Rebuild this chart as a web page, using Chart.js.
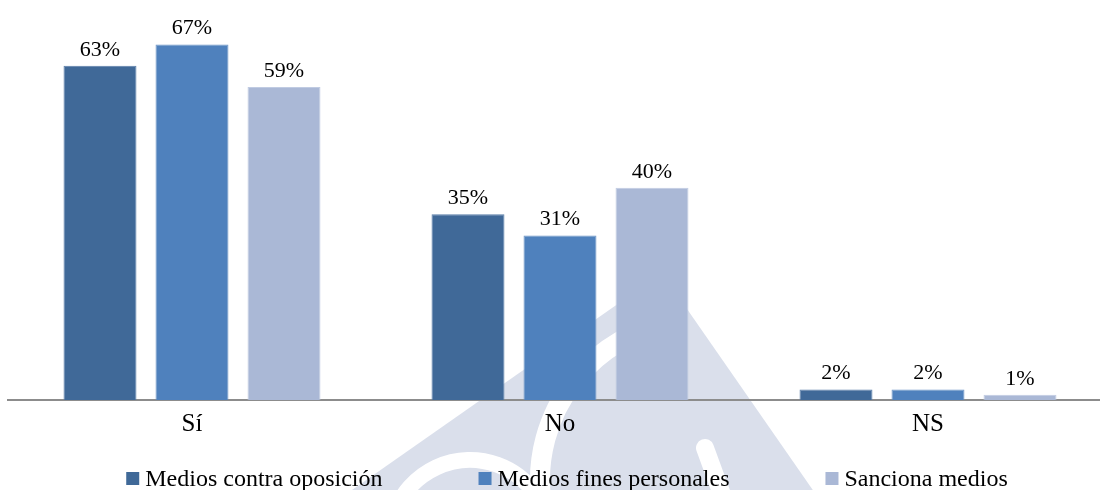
<!DOCTYPE html>
<html>
<head>
<meta charset="utf-8">
<title>Medios</title>
<script src="https://cdn.jsdelivr.net/npm/chart.js@4.4.0/dist/chart.umd.min.js"></script>
<style>
  html, body { margin: 0; padding: 0; background: #fff; }
  #wrap { width: 1100px; height: 490px; overflow: hidden; position: relative; }
  canvas { display: block; }
</style>
</head>
<body>
<div id="wrap"><canvas id="encuesta" width="1113" height="490"></canvas></div>
<script>
// Answers (in %) per option, one array per series.
var categories = ["Sí", "No", "NS"];
var seriesNames = ["Medios contra oposición", "Medios fines personales", "Sanciona medios"];
var contraOposicion = [63, 35, 2];
var finesPersonales = [67, 31, 2];
var sancionaMedios = [59, 40, 1];

var fills = ["#406998", "#4f81bd", "#aab8d6"];
var edges = ["#5a7ea9", "#6d95c6", "#c0cbe2"];

Chart.defaults.font.family = '"Liberation Serif", "Times New Roman", serif';
Chart.defaults.color = "#000";

// Pale emblem painted behind the bars.
var emblem = {
  id: "emblem",
  beforeDraw: function (chart) {
    var ctx = chart.ctx;
    ctx.save();
    ctx.beginPath();
    ctx.moveTo(662, 273);
    ctx.lineTo(662 - 1.4286 * 260, 273 + 260);
    ctx.lineTo(662 + 0.695 * 260, 273 + 260);
    ctx.closePath();
    ctx.fillStyle = "#dadfeb";
    ctx.fill();
    ctx.clip();

    ctx.strokeStyle = "#fff";
    ctx.lineCap = "round";
    ctx.lineWidth = 20;
    ctx.beginPath();
    ctx.arc(700, 480, 160, Math.PI * 150 / 180, Math.PI * 260 / 180);
    ctx.stroke();

    ctx.lineWidth = 16;
    ctx.beginPath();
    ctx.arc(470, 540, 80, Math.PI * 200 / 180, Math.PI * 330 / 180);
    ctx.stroke();

    ctx.lineWidth = 18;
    ctx.beginPath();
    ctx.moveTo(705, 448);
    ctx.lineTo(724, 500);
    ctx.stroke();
    ctx.restore();
  }
};

// Percentage written above every bar.
var valueLabels = {
  id: "valueLabels",
  afterDatasetsDraw: function (chart) {
    var ctx = chart.ctx;
    ctx.save();
    ctx.font = '22px "Liberation Serif"';
    ctx.fillStyle = "#000";
    ctx.textAlign = "center";
    ctx.textBaseline = "alphabetic";
    chart.data.datasets.forEach(function (ds, i) {
      chart.getDatasetMeta(i).data.forEach(function (bar, j) {
        ctx.fillText(ds.data[j] + "%", bar.x, bar.y - 10);
      });
    });
    ctx.restore();
  }
};

// Legend row under the axis labels.
var bottomLegend = {
  id: "bottomLegend",
  afterDraw: function (chart) {
    var ctx = chart.ctx;
    var box = 13, gap = 6, spacing = 96;
    ctx.save();
    ctx.font = '24px "Liberation Serif"';
    ctx.textBaseline = "alphabetic";
    var widths = chart.data.datasets.map(function (ds) { return ctx.measureText(ds.label).width; });
    var total = spacing * (widths.length - 1);
    widths.forEach(function (w) { total += box + gap + w; });
    var x = 567 - total / 2;
    chart.data.datasets.forEach(function (ds, i) {
      ctx.fillStyle = ds.backgroundColor;
      ctx.fillRect(x, 472, box, box);
      ctx.fillStyle = "#000";
      ctx.fillText(ds.label, x + box + gap, 486);
      x += box + gap + widths[i] + spacing;
    });
    ctx.restore();
  }
};

var seriesData = [contraOposicion, finesPersonales, sancionaMedios];
var datasets = seriesData.map(function (values, i) {
  return {
    label: seriesNames[i],
    data: values,
    backgroundColor: fills[i],
    borderColor: edges[i],
    borderWidth: 1,
    categoryPercentage: 0.75,
    barPercentage: 0.793
  };
});

var myChart = new Chart(document.getElementById("encuesta"), {
  type: "bar",
  data: { labels: categories, datasets: datasets },
  options: {
    responsive: false,
    animation: false,
    layout: { padding: { left: 8, right: 1, top: 2, bottom: 42 } },
    plugins: {
      legend: { display: false },
      tooltip: { enabled: false }
    },
    scales: {
      x: {
        grid: { display: false, drawTicks: false },
        border: { display: true, color: "#8c8c8c", width: 2 },
        ticks: { padding: 9, font: { size: 25 }, color: "#000" }
      },
      y: { display: false, min: 0, max: 75 }
    }
  },
  plugins: [emblem, valueLabels, bottomLegend]
});
</script>
</body>
</html>
